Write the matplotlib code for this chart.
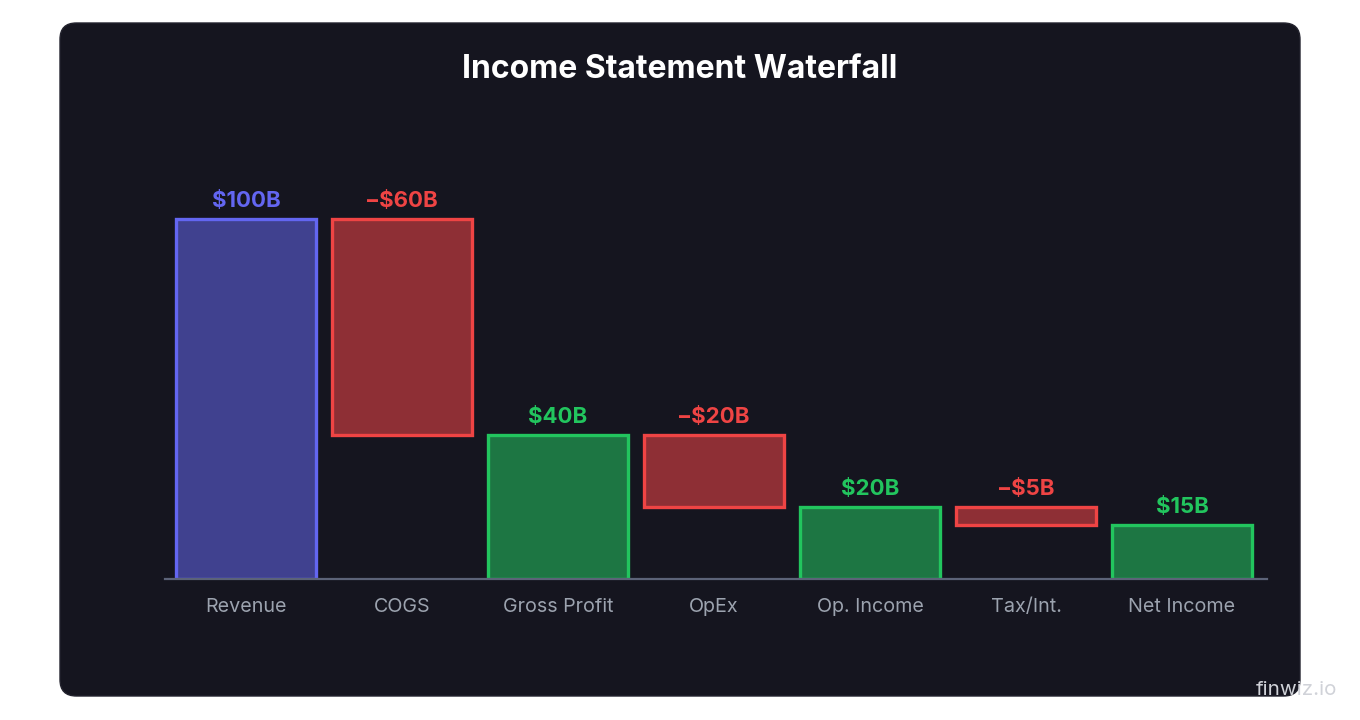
import matplotlib.pyplot as plt
from matplotlib.patches import FancyBboxPatch

plt.rcParams['font.family'] = ['Inter', 'DejaVu Sans']

# waterfall data
categories = ["Revenue", "COGS", "Gross Profit", "OpEx", "Op. Income", "Tax/Int.", "Net Income"]
changes = [100, -60, 40, -20, 20, -5, 15]
kinds = ["start", "neg", "total", "neg", "total", "neg", "total"]
labels = ["$100B", "\u2212$60B", "$40B", "\u2212$20B", "$20B", "\u2212$5B", "$15B"]

edge_cols = {"start": "#6366f1", "neg": "#ef4444", "total": "#22c55e"}
fill_cols = {"start": "#40418f", "neg": "#8e2f35", "total": "#1d7643"}

W, H = 1360, 720
fig = plt.figure(figsize=(W / 100, H / 100), dpi=100)
fig.patch.set_facecolor("white")

# dark card behind everything
card = FancyBboxPatch((60 / W, 1 - 696 / H), 1240 / W, 673 / H,
                      boxstyle="round,pad=0,rounding_size=0.012",
                      transform=fig.transFigure, facecolor="#15151f",
                      edgecolor="#23232e", linewidth=1, mutation_aspect=W / H,
                      zorder=-10)
fig.add_artist(card)

fig.text(680 / W, 1 - 69 / H, "Income Statement Waterfall", ha="center", va="center",
         color="white", fontsize=23, fontweight="bold")

# axes: baseline at y=579px, plot from x=165 to 1267
top_px = 111
ax = fig.add_axes([165 / W, 1 - 579 / H, (1267 - 165) / W, (579 - top_px) / H])
ax.set_facecolor("none")
ax.set_xlim(-0.52, 6.545)
ax.set_ylim(0, (579 - top_px) / 3.6)

running = 0
for i, (c, k, lab) in enumerate(zip(changes, kinds, labels)):
    if k == "neg":
        bottom = running + c
        height = -c
        running = running + c
    else:
        bottom = 0
        height = c
        running = c
    ax.bar(i, height, bottom=bottom, width=0.9, color=fill_cols[k],
           edgecolor=edge_cols[k], linewidth=2.4, zorder=2)
    ax.annotate(lab, (i, bottom + height), xytext=(0, 6), textcoords="offset points",
                ha="center", va="bottom", color=edge_cols[k], fontsize=16,
                fontweight="bold")

for s in ["top", "right", "left"]:
    ax.spines[s].set_visible(False)
ax.spines["bottom"].set_color("#5c6378")
ax.spines["bottom"].set_linewidth(1.6)
ax.spines["bottom"].set_zorder(3)
ax.set_yticks([])
ax.set_xticks(range(len(categories)))
ax.set_xticklabels(categories, color="#9ca3af", fontsize=14.2)
ax.tick_params(axis="x", length=0, pad=14)

fig.text(1296 / W, 1 - 690 / H, "finwiz.io", ha="center", va="center",
         color="#d0d2d8", fontsize=14.8)

fig.savefig("out.png", dpi=100, facecolor=fig.get_facecolor())
